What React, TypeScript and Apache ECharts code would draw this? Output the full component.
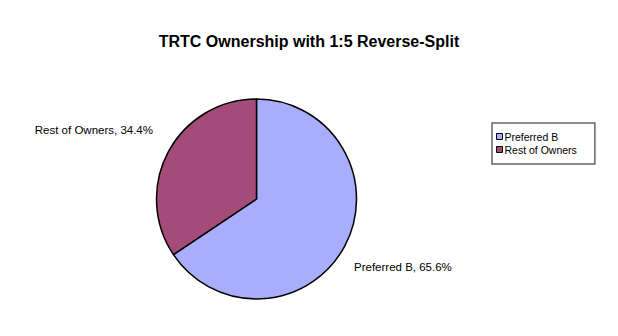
import React, { useEffect, useRef } from "react";
import * as echarts from "echarts";

const categories = ["Preferred B", "Rest of Owners"];
const values = [65.6, 34.4];
const colors = ["#a9adfd", "#a54b7a"];
const titleText = "TRTC Ownership with 1:5 Reverse-Split";

export default function App() {
  const ref = useRef<HTMLDivElement>(null);
  useEffect(() => {
    if (!ref.current) return;
    const chart = echarts.init(ref.current, null, { renderer: "svg" });
    const labelPos = [
      { x: 354, y: 267, align: "left" },
      { x: 153, y: 130, align: "right" },
    ];
    chart.setOption({
      animation: false,
      backgroundColor: "#ffffff",
      title: {
        text: titleText,
        left: "center",
        top: 28,
        textStyle: {
          fontFamily: "Liberation Sans, Arial, sans-serif",
          fontSize: 16,
          fontWeight: "bold",
          color: "#000",
        },
      },
      legend: {
        orient: "vertical",
        left: 492,
        top: 123,
        data: categories,
        icon: "rect",
        itemWidth: 6,
        itemHeight: 6,
        itemGap: 2,
        padding: [8, 18, 9, 4],
        borderColor: "#666",
        borderWidth: 1.5,
        itemStyle: { borderColor: "#000", borderWidth: 1 },
        textStyle: {
          fontFamily: "Liberation Sans, Arial, sans-serif",
          fontSize: 10.5,
          color: "#000",
          padding: [0, 0, 0, -3],
        },
      },
      series: [
        {
          type: "pie",
          center: [256.5, 199],
          radius: 100,
          startAngle: 90,
          clockwise: true,
          data: categories.map((name, i) => ({
            name,
            value: values[i],
            itemStyle: { color: colors[i] },
          })),
          itemStyle: { borderColor: "#000", borderWidth: 1.5 },
          emphasis: { disabled: true },
          label: {
            show: true,
            position: "outside",
            overflow: "none",
            alignTo: "none",
            formatter: (p: any) => `${p.name}, ${p.value.toFixed(1)}%`,
            fontFamily: "Liberation Sans, Arial, sans-serif",
            fontSize: 11.5,
            color: "#000",
          },
          labelLine: { show: false },
          labelLayout: (params: any) => {
            const l = labelPos[params.dataIndex];
            return { x: l.x, y: l.y, align: l.align, verticalAlign: "middle" };
          },
        },
      ],
    });
    return () => chart.dispose();
  }, []);
  return (
    <div
      ref={ref}
      style={{ position: "absolute", left: 0, top: 0, width: 618, height: 336 }}
    />
  );
}
